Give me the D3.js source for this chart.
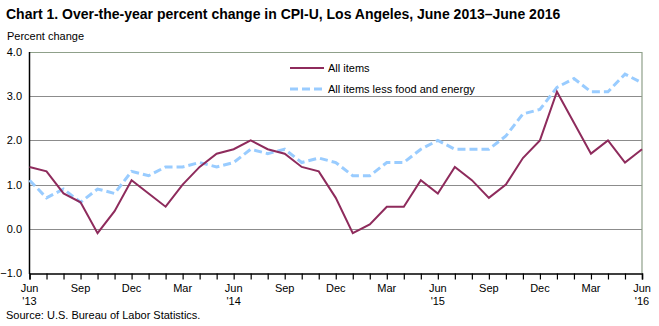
<!DOCTYPE html>
<html>
<head>
<meta charset="utf-8">
<script src="https://cdn.jsdelivr.net/npm/d3@7"></script>
<style>
  body { margin: 0; background: #fff; }
  svg { display: block; font-family: "Liberation Sans", Arial, sans-serif; }
</style>
</head>
<body>
<svg id="chart" width="659" height="326"></svg>
<script>
// monthly series, June 2013 through June 2016
var months = ["Jun","Jul","Aug","Sep","Oct","Nov","Dec",
  "Jan","Feb","Mar","Apr","May","Jun","Jul","Aug","Sep","Oct","Nov","Dec",
  "Jan","Feb","Mar","Apr","May","Jun","Jul","Aug","Sep","Oct","Nov","Dec",
  "Jan","Feb","Mar","Apr","May","Jun"];
var years = ["'13","","","","","","","","","","","","'14","","","","","","","","","","","","'15","","","","","","","","","","","","'16"];
var allItems = [1.4,1.3,0.8,0.6,-0.1,0.4,1.1,0.8,0.5,1.0,1.4,1.7,1.8,2.0,1.8,1.7,1.4,1.3,0.7,
  -0.1,0.1,0.5,0.5,1.1,0.8,1.4,1.1,0.7,1.0,1.6,2.0,3.1,2.4,1.7,2.0,1.5,1.8];
var core = [1.1,0.7,0.9,0.6,0.9,0.8,1.3,1.2,1.4,1.4,1.5,1.4,1.5,1.8,1.7,1.8,1.5,1.6,1.5,
  1.2,1.2,1.5,1.5,1.8,2.0,1.8,1.8,1.8,2.1,2.6,2.7,3.2,3.4,3.1,3.1,3.5,3.3];
var yTicks = [-1, 0, 1, 2, 3, 4];

var svg = d3.select("#chart");
var x0 = 29.5, x1 = 642, yTop = 52, yBot = 273;

var x = d3.scaleLinear().domain([0, months.length - 1]).range([x0, x1]);
var y = d3.scaleLinear().domain([-1, 4]).range([yBot, yTop]);

svg.append("text").attr("x", 6).attr("y", 19)
  .attr("font-size", 14).attr("font-weight", "bold").attr("fill", "#000")
  .text("Chart 1. Over-the-year percent change in CPI-U, Los Angeles, June 2013\u2013June 2016");
svg.append("text").attr("x", 7).attr("y", 40).attr("font-size", 11).text("Percent change");

// gridlines
svg.append("g").selectAll("line").data(yTicks.filter(function(d) { return d > -1 && d < 4; }))
  .enter().append("line")
  .attr("x1", x0).attr("x2", x1)
  .attr("y1", function(d) { return Math.round(y(d)) + 0.5; })
  .attr("y2", function(d) { return Math.round(y(d)) + 0.5; })
  .attr("stroke", "#8c8c8c").attr("stroke-width", 1);

// top and right border
svg.append("path")
  .attr("d", "M" + x0 + "," + (yTop + 0.5) + "H" + x1 + "V" + yBot)
  .attr("fill", "none").attr("stroke", "#8fa08a").attr("stroke-width", 1.2);

// y labels
svg.append("g").selectAll("text").data(yTicks).enter().append("text")
  .attr("x", 22).attr("y", function(d) { return y(d) + 4; })
  .attr("text-anchor", "end").attr("font-size", 11)
  .text(function(d) { return d3.format(".1f")(d); });

// x axis
var xAxis = d3.axisBottom(x).tickValues(d3.range(months.length)).tickSize(6).tickFormat("");
var gx = svg.append("g").attr("transform", "translate(0," + (yBot + 0.5) + ")").call(xAxis);
gx.select(".domain").attr("stroke", "#000").attr("stroke-width", 1.5);
gx.selectAll(".tick line").attr("stroke", "#000").attr("stroke-width", 1.2);

var lbl = svg.append("g").attr("font-size", 11).attr("text-anchor", "middle");
months.forEach(function(m, i) {
  if (i % 3 !== 0) return;
  lbl.append("text").attr("x", x(i)).attr("y", 292).text(m);
  if (years[i]) lbl.append("text").attr("x", x(i)).attr("y", 305).text(years[i]);
});

// y axis line
svg.append("line").attr("x1", x0).attr("x2", x0).attr("y1", yTop).attr("y2", yBot + 1)
  .attr("stroke", "#000").attr("stroke-width", 1.5);

var line = d3.line().x(function(d, i) { return x(i); }).y(function(d) { return y(d); });

svg.append("path").datum(core).attr("d", line)
  .attr("fill", "none").attr("stroke", "#99ccff").attr("stroke-width", 3)
  .attr("stroke-dasharray", "8,4");
svg.append("path").datum(allItems).attr("d", line)
  .attr("fill", "none").attr("stroke", "#8e2b5c").attr("stroke-width", 2);

// legend
var lg = svg.append("g").attr("font-size", 11);
lg.append("line").attr("x1", 290).attr("x2", 324).attr("y1", 68).attr("y2", 68)
  .attr("stroke", "#8e2b5c").attr("stroke-width", 2);
lg.append("text").attr("x", 328).attr("y", 72).text("All items");
lg.append("line").attr("x1", 290).attr("x2", 324).attr("y1", 89).attr("y2", 89)
  .attr("stroke", "#99ccff").attr("stroke-width", 3).attr("stroke-dasharray", "8,4");
lg.append("text").attr("x", 328).attr("y", 93).text("All items less food and energy");

svg.append("text").attr("x", 6).attr("y", 319).attr("font-size", 11)
  .text("Source: U.S. Bureau of Labor Statistics.");
</script>
</body>
</html>
